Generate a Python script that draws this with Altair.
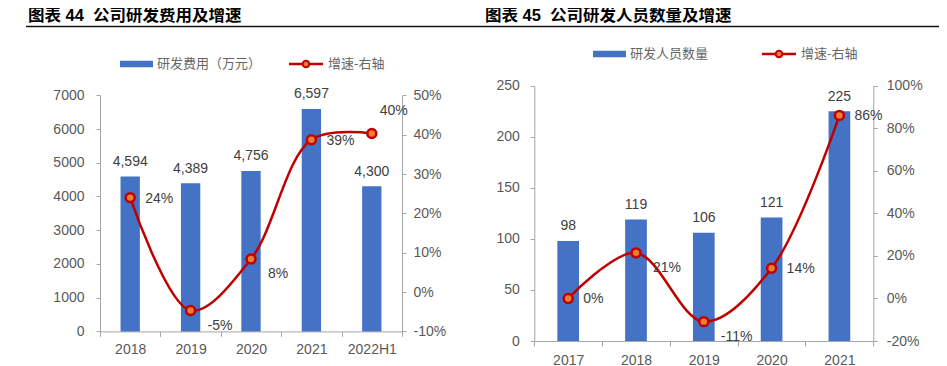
import altair as alt
import pandas as pd

# ---------------- data ----------------
l_cats = ["2018", "2019", "2020", "2021", "2022H1"]
l_cost = [4594, 4389, 4756, 6597, 4300]
l_growth = [0.24, -0.047, 0.084, 0.387, 0.403]

r_cats = ["2017", "2018", "2019", "2020", "2021"]
r_staff = [98, 119, 106, 121, 225]
r_growth = [0.0, 0.214, -0.109, 0.142, 0.86]

l_left_ticks = [0, 1000, 2000, 3000, 4000, 5000, 6000, 7000]
l_right_ticks = [-0.1, 0.0, 0.1, 0.2, 0.3, 0.4, 0.5]
r_left_ticks = [0, 50, 100, 150, 200, 250]
r_right_ticks = [-0.2, 0.0, 0.2, 0.4, 0.6, 0.8, 1.0]

l_title = "图表 44\u00a0\u00a0公司研发费用及增速"
r_title = "图表 45\u00a0\u00a0公司研发人员数量及增速"
l_bar_name = "研发费用（万元）"
r_bar_name = "研发人员数量"
line_name = "增速-右轴"

# ---------------- style ----------------
W, H = 931, 358
FONT = "Liberation Sans, Arial, Noto Sans CJK SC"
CJK = "Noto Sans CJK SC"
BLUE = "#4472C4"
RED = "#C00000"
ORANGE = "#ED7D31"
GRAY = "#A6A6A6"
TXT = "#595959"
LAB = "#404040"
MINUS_FIX = "replace(datum.label, '\u2212', '-')"

one = pd.DataFrame({"k": [0]})


def yaxis(orient, offset, values, pad, fmt):
    return alt.Axis(orient=orient, offset=offset, values=values, format=fmt,
                    labelExpr=MINUS_FIX, domainColor=GRAY, tickColor=GRAY,
                    tickSize=4, labelFont=FONT, labelFontSize=14,
                    labelColor=TXT, labelPadding=pad, grid=False, title=None)


def panel(cats, vals, growth, vdom, vticks, gdom, gticks, xr, yr, offs,
          pads, right_grp, below_grp, above_grp, bar_fmt):
    df = pd.DataFrame({"cat": cats, "val": vals, "g": growth})
    xs = alt.Scale(domain=cats, range=xr, paddingInner=0, paddingOuter=0)
    xaxis = alt.Axis(orient="bottom", offset=offs[2], tickBand="extent",
                     labelAngle=0, domainColor=GRAY, tickColor=GRAY,
                     tickSize=5, labelFont=FONT, labelFontSize=14,
                     labelColor=TXT, labelPadding=pads[2], title=None)
    xa = alt.X("cat:N", scale=xs, axis=xaxis, sort=cats)
    xn = alt.X("cat:N", scale=xs, axis=None, sort=cats)
    yv = alt.Scale(domain=vdom, range=yr, nice=False, zero=True)
    yg = alt.Scale(domain=gdom, range=yr, nice=False, zero=False)
    yvn = alt.Y("val:Q", scale=yv, axis=None)
    ygn = alt.Y("g:Q", scale=yg, axis=None)

    bars = alt.Chart(df).mark_bar(color=BLUE, width=alt.RelativeBandSize(0.32)).encode(
        x=xa, y=alt.Y("val:Q", scale=yv,
                      axis=yaxis("left", offs[0], vticks, pads[0], "d")))
    barlab = alt.Chart(df).mark_text(dy=-14.5, font=FONT, fontSize=14, color=LAB,
                                     baseline="middle").encode(
        x=xn, y=yvn, text=alt.Text("val:Q", format=bar_fmt))
    line = alt.Chart(df).mark_line(color=RED, strokeWidth=2.5,
                                   interpolate="catmull-rom").encode(
        x=xn, y=alt.Y("g:Q", scale=yg,
                      axis=yaxis("right", offs[1], gticks, pads[1], ".0%")))
    pts = alt.Chart(df).mark_circle(fill=ORANGE, stroke=RED, strokeWidth=2.5,
                                    size=80, opacity=1).encode(x=xn, y=ygn)
    layers = [bars, barlab, line, pts]
    for grp, dx, dy in [(right_grp, 15, 1), (below_grp, 17, 15.5), (above_grp, 8, -22.5)]:
        if not grp:
            continue
        layers.append(
            alt.Chart(df).transform_filter(
                alt.FieldOneOfPredicate(field="cat", oneOf=grp)
            ).transform_calculate(
                lab="replace(format(datum.g, '.0%'), '\u2212', '-')"
            ).mark_text(align="left", baseline="middle", dx=dx, dy=dy, font=FONT,
                        fontSize=14, color=LAB).encode(
                x=xn, y=ygn, text=alt.Text("lab:N")))
    return layers


def txt(s, x, y, size, color, weight="normal", font=CJK):
    return alt.Chart(one).mark_text(align="left", baseline="middle", font=font,
                                    fontSize=size, fontWeight=weight,
                                    color=color).encode(
        x=alt.value(x), y=alt.value(y), text=alt.value(s))


def legend(x0, y0, bar_name):
    return [
        alt.Chart(one).mark_rect(color=BLUE).encode(
            x=alt.value(x0), x2=alt.value(x0 + 33),
            y=alt.value(y0 - 3.2), y2=alt.value(y0 + 3.2)),
        txt(bar_name, x0 + 37, y0, 13, "#666666"),
        alt.Chart(one).mark_rule(color=RED, strokeWidth=2.5).encode(
            x=alt.value(x0 + 169), x2=alt.value(x0 + 203), y=alt.value(y0)),
        alt.Chart(one).mark_circle(fill=ORANGE, stroke=RED, strokeWidth=2,
                                   size=45, opacity=1).encode(
            x=alt.value(x0 + 186), y=alt.value(y0)),
        txt(line_name, x0 + 208, y0, 13, "#666666"),
    ]


left = panel(l_cats, l_cost, l_growth, [0, 7000], l_left_ticks, [-0.1, 0.5],
             l_right_ticks, [92, 394], [323.4, 87.3], [-92, 394 - W, 323.4 - H],
             [12, 7, 6], ["2018", "2021"], ["2019", "2020"], ["2022H1"], ",")
right = panel(r_cats, r_staff, r_growth, [0, 250], r_left_ticks,
              [-0.2, 1.0], r_right_ticks, [526.3, 865.3], [333, 77.6],
              [-526.3, 865.3 - W, 333 - H], [11, 9, 7],
              ["2017", "2020", "2021"], ["2018", "2019"], [], "d")

deco = [
    txt(l_title, 20, 7.5, 16.5, "#000000", "bold", FONT),
    txt(r_title, 477, 7.5, 16.5, "#000000", "bold", FONT),
    alt.Chart(one).mark_rule(color="#111111", strokeWidth=1.6).encode(
        x=alt.value(18), x2=alt.value(W), y=alt.value(18.5)),
] + legend(112, 56, l_bar_name) + legend(585, 46, r_bar_name)

chart = alt.layer(*(left + right + deco)).resolve_scale(
    x="independent", y="independent"
).resolve_axis(x="independent", y="independent").properties(
    width=W, height=H, autosize=alt.AutoSizeParams(type="none"), padding=0
).configure_view(strokeWidth=0)

chart.save("out.html", embed_options={"renderer": "svg", "actions": False})
